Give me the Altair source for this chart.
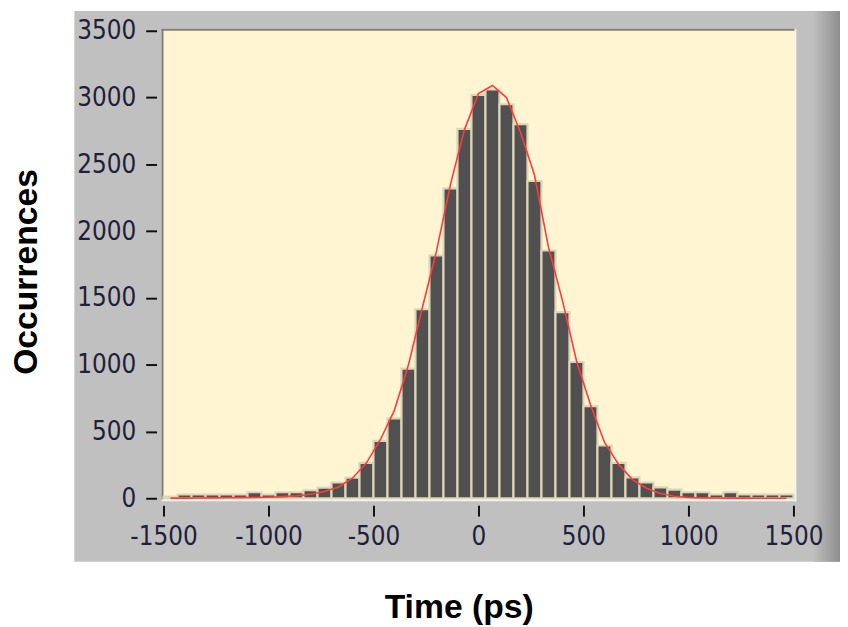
import altair as alt
import numpy as np
import pandas as pd

# ---- data ----
x_min, x_max = -1500, 1500
counts = [12, 28, 28, 28, 28, 28, 45, 28, 45, 45, 60, 80, 118, 155, 265, 430, 598,
          970, 1415, 1818, 2320, 2765, 3020, 3060, 2950, 2800, 2375, 1855, 1393, 1020,
          690, 395, 265, 157, 118, 82, 65, 45, 45, 28, 45, 28, 28, 28, 28]
fit = [1, 1, 2, 3, 4, 5, 6, 8, 12, 18, 30, 50, 85, 150, 265, 440, 660,
       1000, 1430, 1850, 2350, 2760, 3030, 3090, 3000, 2740, 2420, 1880, 1480, 1030,
       700, 420, 255, 140, 75, 35, 15, 6, 3, 2, 1, 1, 0, 0, 0]
x_ticks = [-1500, -1000, -500, 0, 500, 1000, 1500]
y_ticks = [0, 500, 1000, 1500, 2000, 2500, 3000, 3500]

n = len(counts)
edges = np.linspace(x_min, x_max, n + 1)
df = pd.DataFrame({
    "lo": edges[:-1],
    "hi": edges[1:],
    "mid": (edges[:-1] + edges[1:]) / 2,
    "count": counts,
    "fit": fit,
})
one = pd.DataFrame({"k": [0]})

W, H = 636, 472
label_font = "DejaVu Sans Condensed"
title_font = "Liberation Sans"

xs = alt.Scale(domain=[x_min, x_max], nice=False)
ys = alt.Scale(domain=[0, 3500], nice=False)

common = dict(labelExpr="'' + datum.value", domain=False, grid=False, tickSize=11,
              tickWidth=2, tickColor="#111111", offset=7, labelFont=label_font,
              labelFontSize=26, labelColor="#20203a", labelFlush=False,
              labelOverlap=False, titleFont=title_font, titleFontSize=34,
              titleFontWeight="bold", titleColor="#000000", titleAlign="center",
              zindex=1)
xaxis = alt.Axis(values=x_ticks, title="Time (ps)", titleX=298, titleY=113,
                 titleBaseline="alphabetic", labelPadding=8, **common)
yaxis = alt.Axis(values=y_ticks, title="Occurrences", titleX=-131, titleY=243,
                 titleAngle=270, titleBaseline="middle", labelPadding=10, **common)

panel = alt.Chart(one).mark_rect(color="#c0c0c0").encode(
    x=alt.value(-90), x2=alt.value(683), y=alt.value(-20), y2=alt.value(536))
shade = alt.Chart(one).mark_rect(
    color=alt.LinearGradient(gradient="linear", x1=0, x2=1, y1=0, y2=0,
                             stops=[alt.GradientStop(color="#c0c0c0", offset=0),
                                    alt.GradientStop(color="#8e8e8e", offset=1)])
).encode(x=alt.value(655), x2=alt.value(683), y=alt.value(-20), y2=alt.value(536))
plotbg = alt.Chart(one).mark_rect(color="#fff5d2").encode(
    x=alt.value(-2), x2=alt.value(638), y=alt.value(-2), y2=alt.value(474))
frame_top = alt.Chart(one).mark_rule(color="#7c7c7c", strokeWidth=2).encode(
    x=alt.value(-2), x2=alt.value(638), y=alt.value(-1))
frame_left = alt.Chart(one).mark_rule(color="#7c7c7c", strokeWidth=2).encode(
    x=alt.value(-1), y=alt.value(-2), y2=alt.value(474))
frame_right = alt.Chart(one).mark_rule(color="#f2f2ee", strokeWidth=2).encode(
    x=alt.value(638), y=alt.value(-2), y2=alt.value(475))
frame_bottom = alt.Chart(one).mark_rule(color="#f2f2ee", strokeWidth=2).encode(
    x=alt.value(-2), x2=alt.value(639), y=alt.value(474))

bars = alt.Chart(df).mark_bar(color="#505050", stroke="#ddd5b4", strokeWidth=2.2).encode(
    x=alt.X("lo:Q", scale=xs, axis=xaxis),
    x2="hi:Q",
    y=alt.Y("count:Q", scale=ys, axis=yaxis),
    y2=alt.datum(0),
)
line = alt.Chart(df).mark_line(color="#ff3b3b", strokeWidth=1.6).encode(
    x=alt.X("mid:Q", scale=xs),
    y=alt.Y("fit:Q", scale=ys),
)

chart = alt.layer(panel, shade, plotbg, frame_top, frame_left, frame_right, frame_bottom,
                  bars, line).properties(
    width=W, height=H,
    padding={"left": 157, "top": 20, "right": 47, "bottom": 127},
    autosize=alt.AutoSizeParams(type="none"),
    background="white",
).configure_view(stroke=None)

chart.save("out.html", embed_options={"renderer": "svg", "actions": False})
